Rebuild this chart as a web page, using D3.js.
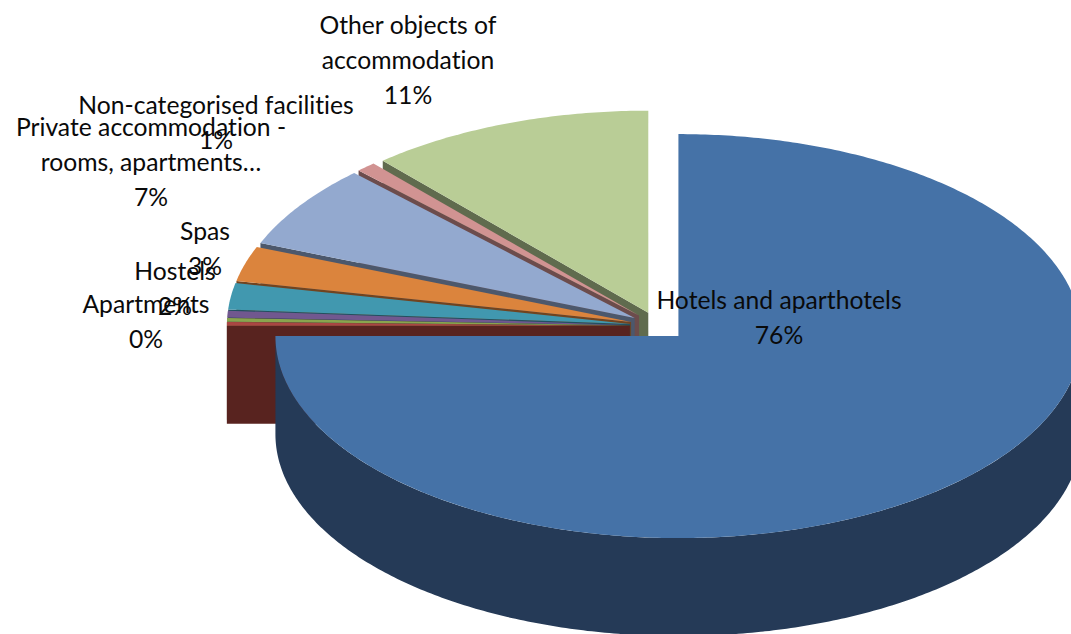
<!DOCTYPE html>
<html>
  <head>
    <title>Accommodation facilities</title>
    <meta charset='utf-8' />
    <script src="https://d3js.org/d3.v7.min.js"></script>
    <style>
    html, body { margin: 0; padding: 0; background: #fff; }
    svg { display: block; }
    text {
      font-family: "Lato", sans-serif;
      font-size: 24.7px;
      font-variant-ligatures: none;
      fill: #0a0a0a;
      text-anchor: middle;
    }
    </style>
  </head>
  <body>
    <div id="chart"></div>
    <script>
    // clockwise from 12 o'clock
    var categories = ["Hotels and aparthotels", "", "", "Apartments", "Hostels", "Spas",
      "Private accommodation -\nrooms, apartments…", "Non-categorised facilities",
      "Other objects of\naccommodation"];
    var values = [75, 0.3, 0.3, 0.55, 2.1, 2.8, 6.7, 0.8, 11.45];
    var percentLabels = ["76%", "", "", "0%", "2%", "3%", "7%", "1%", "11%"];
    var topColors = ["#4572a7", "#aa4643", "#89a54e", "#71588f", "#4198af", "#db843d", "#93a9cf", "#d19392", "#b9cd96"];
    var wallColors = ["#253a57", "#58231f", "#47572a", "#3b2e4a", "#225060", "#714420", "#4c586c", "#6c4c4c", "#606b4e"];

    var width = 1071,
        height = 634,
        centerX = 658.3,
        centerY = 326,
        radiusX = 403,
        radiusY = 202,
        depth = 98,
        explode = 0.0706,
        lineStep = 35;

    // centre x and first baseline of every label block
    var labelX = [779, 0, 0, 146, 175, 205, 151, 216, 408];
    var labelY = [309, 0, 0, 313, 280, 240, 136, 114, 34];

    var svg = d3.select("#chart").append("svg")
        .attr("width", width)
        .attr("height", height);

    var xScale = d3.scaleLinear().domain([-1, 1]).range([centerX - radiusX, centerX + radiusX]);
    var yScale = d3.scaleLinear().domain([-1, 1]).range([centerY - radiusY, centerY + radiusY]);

    var pie = d3.pie().sort(null).value(function(d) { return d; });
    var slices = pie(values).map(function(d, i) {
      var mid = (d.startAngle + d.endAngle) / 2;
      return {
        index: i,
        startAngle: d.startAngle,
        endAngle: d.endAngle,
        ox: Math.sin(mid) * explode,
        oy: -Math.cos(mid) * explode
      };
    });

    var line = d3.line()
      .x(function(p) { return xScale(p[0]); })
      .y(function(p) { return yScale(p[1]) + (p[2] || 0); });

    function rimPoint(s, a, drop) {
      return [s.ox + Math.sin(a), s.oy - Math.cos(a), drop];
    }

    function rimPoints(s, a0, a1, drop) {
      var n = Math.max(2, Math.ceil((a1 - a0) * 90));
      return d3.range(n + 1).map(function(k) {
        return rimPoint(s, a0 + (a1 - a0) * k / n, drop);
      });
    }

    function topPath(s) {
      return line([[s.ox, s.oy]].concat(rimPoints(s, s.startAngle, s.endAngle, 0))) + "Z";
    }

    // the radial face at the start of a slice, seen through the gap to the next one
    function sideWall(s) {
      var rim = rimPoint(s, s.startAngle, 0);
      return line([[s.ox, s.oy, 0], rim, [rim[0], rim[1], depth], [s.ox, s.oy, depth]]) + "Z";
    }

    // the curved outer face, only the part turned towards the viewer
    function outerWall(s) {
      var a0 = Math.max(s.startAngle, Math.PI / 2),
          a1 = Math.min(s.endAngle, Math.PI * 1.5);
      if (a1 <= a0) return null;
      return line(rimPoints(s, a0, a1, 0).concat(rimPoints(s, a0, a1, depth).reverse())) + "Z";
    }

    // painter's order: back slices first, big slice on top
    var order = d3.range(1, slices.length).reverse().concat([0]).map(function(i) { return slices[i]; });

    var sliceG = svg.selectAll(".slice").data(order).enter()
      .append("g")
        .attr("class", "slice");

    sliceG.append("path")
      .attr("d", sideWall)
      .style("fill", function(d) { return wallColors[d.index]; });
    sliceG.append("path")
      .attr("d", outerWall)
      .style("fill", function(d) { return wallColors[d.index]; });
    sliceG.append("path")
      .attr("d", topPath)
      .style("fill", function(d) { return topColors[d.index]; });

    var labels = svg.selectAll(".label")
      .data(d3.range(categories.length).filter(function(i) { return categories[i]; }))
      .enter().append("g")
        .attr("class", "label");

    labels.each(function(i) {
      var rows = categories[i].split("\n").concat([percentLabels[i]]);
      d3.select(this).selectAll("text").data(rows).enter()
        .append("text")
          .attr("x", labelX[i])
          .attr("y", function(d, k) { return labelY[i] + k * lineStep; })
          .text(function(d) { return d; });
    });
    </script>
</body>
</html>
